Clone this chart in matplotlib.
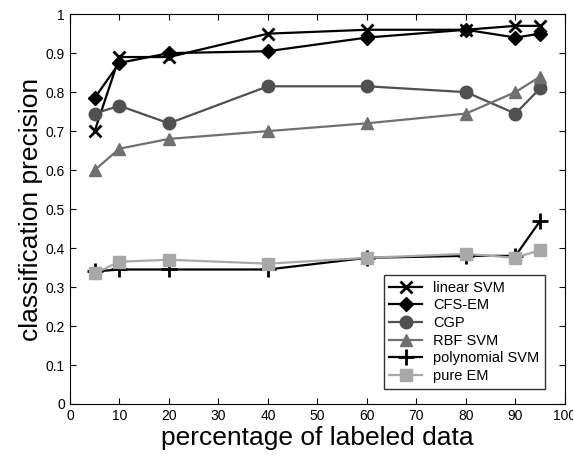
import matplotlib
matplotlib.use("Agg")
import matplotlib.pyplot as plt

plt.rcParams['font.family'] = ['Liberation Sans', 'DejaVu Sans']

pct = [5, 10, 20, 40, 60, 80, 90, 95]

linear_svm = [0.70, 0.89, 0.89, 0.95, 0.96, 0.96, 0.97, 0.97]
cfs_em = [0.785, 0.875, 0.90, 0.905, 0.94, 0.96, 0.94, 0.95]
cgp = [0.745, 0.765, 0.72, 0.815, 0.815, 0.80, 0.745, 0.81]
rbf_svm = [0.60, 0.655, 0.68, 0.70, 0.72, 0.745, 0.80, 0.84]
poly_svm = [0.34, 0.345, 0.345, 0.345, 0.375, 0.38, 0.38, 0.47]
pure_em = [0.335, 0.365, 0.37, 0.36, 0.375, 0.385, 0.375, 0.395]

series = [
    (linear_svm, 'linear SVM', 'x', 'black', 8),
    (cfs_em, 'CFS-EM', 'D', 'black', 7),
    (cgp, 'CGP', 'o', '#505050', 9),
    (rbf_svm, 'RBF SVM', '^', '#707070', 9),
    (poly_svm, 'polynomial SVM', '+', 'black', 11),
    (pure_em, 'pure EM', 's', '#a8a8a8', 8),
]

fig = plt.figure(figsize=(5.73, 4.57), dpi=100)
ax = fig.add_axes([0.122, 0.116, 0.864, 0.853])

for vals, name, mk, col, ms in series:
    ax.plot(pct, vals, color=col, marker=mk, markersize=ms, linewidth=1.6,
            markeredgewidth=2 if mk in 'x+' else 1, label=name)

ax.set_xlim(0, 100)
ax.set_ylim(0, 1)
ax.set_xticks(range(0, 101, 10))
ax.set_yticks([i / 10 for i in range(11)])
ax.set_yticklabels(['0', '0.1', '0.2', '0.3', '0.4', '0.5', '0.6', '0.7', '0.8', '0.9', '1'])
ax.tick_params(direction='in', top=True, right=True, labelsize=10, length=4)

ax.set_xlabel('percentage of labeled data', fontsize=19, labelpad=2)
ax.set_ylabel('classification precision', fontsize=19, labelpad=2)

leg = ax.legend(loc='lower right', bbox_to_anchor=(0.975, 0.02), fontsize=10.5,
                frameon=True, fancybox=False, edgecolor='black',
                handlelength=2.2, labelspacing=0.25, borderpad=0.4)
leg.get_frame().set_linewidth(1.0)

fig.savefig('out.png', dpi=100)
